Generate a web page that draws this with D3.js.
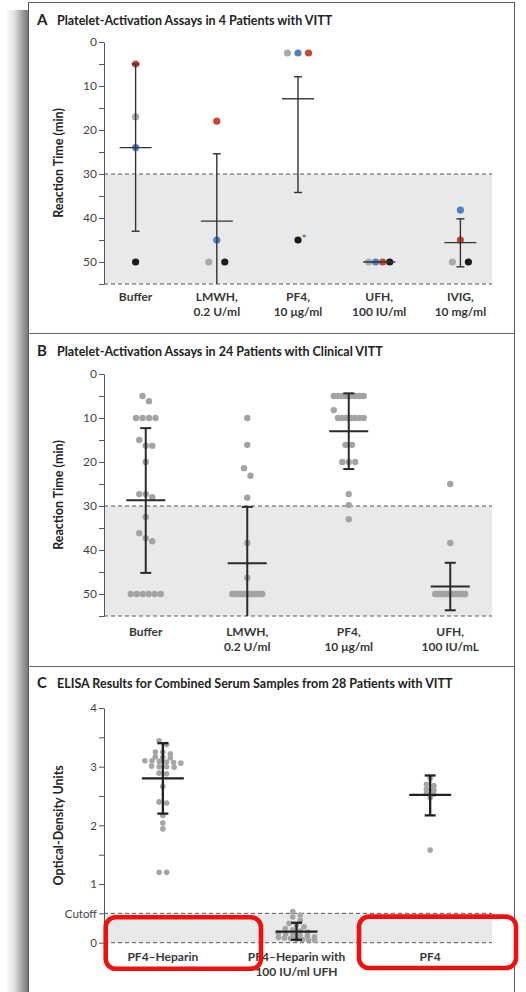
<!DOCTYPE html>
<html>
<head>
<meta charset="utf-8">
<script src="https://cdnjs.cloudflare.com/ajax/libs/d3/7.8.5/d3.min.js"></script>
<style>
  body { margin: 0; background: #fff; }
  svg { display: block; font-family: Lato, "Open Sans", sans-serif; }
</style>
</head>
<body>
<script>
// ---- data ----
// panel A: 4 patients, colour order gray, blue, red, black
const patientColors = ["#a9a9a9", "#4f80c6", "#cb4630", "#1c1c1c"];
const catsA = ["Buffer", "LMWH", "PF4", "UFH", "IVIG"];
const labelsA = [["Buffer"], ["LMWH,", "0.2 U/ml"], ["PF4,", "10 μg/ml"], ["UFH,", "100 IU/ml"], ["IVIG,", "10 mg/ml"]];
const bufferA = [17, 24, 5, 50];
const lmwhA = [50, 45, 18, 50];
const pf4A = [2.5, 2.5, 2.5, 45];
const ufhA = [50, 50, 50, 50];
const ivigA = [50, 38.2, 45, 50];
const meanA = [24, 40.7, 12.9, 50, 45.6];
const lowA = [5, 25.4, 7.9, 50, 40.2];
const highA = [43, 56.2, 34.2, 50, 51.1];

// panel B: 24 patients with clinical VITT
const catsB = ["Buffer", "LMWH", "PF4", "UFH"];
const labelsB = [["Buffer"], ["LMWH,", "0.2 U/ml"], ["PF4,", "10 μg/ml"], ["UFH,", "100 IU/mL"]];
const bufferB = [5, 6.2, 10, 10, 10, 10, 15, 16.3, 16.3, 20, 27.3, 27.3, 28, 32.5, 36.2, 37.3, 38, 50, 50, 50, 50, 50, 50];
const lmwhB = [10, 16.1, 21.4, 23.1, 28.1, 38.4, 46.3, 50, 50, 50, 50, 50, 50, 50, 50, 50, 50, 50, 50, 50, 50, 50, 50, 50];
const pf4B = [5, 5, 5, 5, 5, 5, 5, 5, 8.2, 10, 10, 10, 10, 10, 10, 10, 16.1, 16.1, 20, 20, 20, 27.3, 29.8, 33];
const ufhB = [25, 38.4, 50, 50, 50, 50, 50, 50, 50, 50, 50, 50, 50, 50, 50, 50, 50, 50, 50, 50, 50, 50, 50, 50];
const meanB = [28.7, 43.0, 13.0, 48.3];
const lowB = [12.3, 30.2, 4.4, 42.9];
const highB = [45.2, 56.5, 21.6, 53.7];

// panel C: ELISA optical density
const catsC = ["PF4–Heparin", "PF4–Heparin UFH", "PF4"];
const labelsC = [["PF4–Heparin"], ["PF4–Heparin with", "100 IU/ml UFH"], ["PF4"]];
const heparinC = [3.44, 3.38, 3.25, 3.25, 3.22, 3.17, 3.16, 3.15, 3.10, 3.10, 3.09, 3.08, 3.07, 3.06,
                  3.01, 3.00, 3.00, 2.99, 2.89, 2.88, 2.66, 2.40, 2.38, 2.17, 2.04, 1.94, 1.20, 1.20];
const heparinUfhC = [0.53, 0.47, 0.44, 0.38, 0.33, 0.30, 0.27, 0.24, 0.22, 0.20, 0.18, 0.16,
                     0.15, 0.13, 0.12, 0.11, 0.10, 0.09, 0.08, 0.07, 0.06, 0.05, 0.05, 0.04];
const pf4C = [2.80, 2.70, 2.68, 2.62, 2.60, 2.55, 2.53, 2.47, 1.58];
const meanC = [2.80, 0.19, 2.52];
const lowC = [2.20, 0.05, 2.17];
const highC = [3.40, 0.34, 2.85];

const width = 526, height = 992;
const plot = {left: 104, right: 492};
const font = "Lato, 'Open Sans', sans-serif";

let svg = d3.select("body").append("svg")
        .attr("width", width)
        .attr("height", height);

// page shadow on the left and the frame
let defs = svg.append("defs");
let grad = defs.append("linearGradient").attr("id", "shade").attr("x1", 0).attr("x2", 1);
grad.append("stop").attr("offset", 0).attr("stop-color", "#ffffff");
grad.append("stop").attr("offset", 0.35).attr("stop-color", "#e2e2e2");
grad.append("stop").attr("offset", 1).attr("stop-color", "#6f6f6f");
svg.append("rect").attr("x", 6).attr("y", 10).attr("width", 23).attr("height", height)
   .attr("fill", "url(#shade)");
svg.append("rect").attr("x", 28.5).attr("y", 2.5).attr("width", 486).attr("height", height + 10)
   .attr("fill", "#fff").attr("stroke", "#5a5a5a");
[333.5, 666.5].forEach(yy => svg.append("line")
   .attr("x1", 28.5).attr("x2", 514.5).attr("y1", yy).attr("y2", yy)
   .attr("stroke", "#6a6a6a"));

// rows of dots with nearly equal values are spread sideways, centred on the category
function layoutRows(vals, y, thresh, maxStep, maxSpan) {
  let pts = vals.map((v, i) => ({v: v, i: i, py: y(v)}))
                .sort((a, b) => a.py - b.py || a.i - b.i);
  let rows = [];
  pts.forEach(p => {
    let row = rows[rows.length - 1];
    if (row && p.py - row[0].py < thresh) row.push(p); else rows.push([p]);
  });
  rows.forEach(row => {
    let n = row.length;
    let step = n > 1 ? Math.min(maxStep, maxSpan / (n - 1)) : 0;
    row.forEach((p, k) => p.dx = (k - (n - 1) / 2) * step);
  });
  return pts;
}

function title(y0, letter, text) {
  svg.append("text").attr("x", 37).attr("y", y0).attr("font-size", 15).attr("font-weight", 700)
     .attr("fill", "#222").text(letter);
  svg.append("text").attr("x", 57).attr("y", y0).attr("font-size", 12.5).attr("font-weight", 700)
     .attr("fill", "#222").text(text);
}

function yAxis(y, ticks, fmt, size) {
  let g = svg.append("g")
     .attr("transform", "translate(" + plot.left + ",0)")
     .call(d3.axisLeft(y).tickValues(ticks).tickSize(5).tickSizeOuter(0).tickPadding(2).tickFormat(fmt));
  g.select(".domain").attr("stroke", "#555");
  g.selectAll(".tick line").attr("stroke", "#555");
  g.selectAll(".tick text").attr("fill", "#444").attr("font-size", size).attr("font-family", font);
  return g;
}

function yTitle(y, text) {
  let r = y.range();
  svg.append("text")
     .attr("transform", "translate(63," + (r[0] + r[1]) / 2 + ") rotate(-90)")
     .attr("text-anchor", "middle").attr("font-size", 12.5).attr("font-weight", 700)
     .attr("fill", "#222").text(text);
}

function band(y, v0, v1) {
  svg.append("rect").attr("x", plot.left).attr("width", plot.right - plot.left)
     .attr("y", Math.min(y(v0), y(v1))).attr("height", Math.abs(y(v1) - y(v0)))
     .attr("fill", "#e8e9eb");
  [v0, v1].forEach(v => svg.append("line")
     .attr("x1", plot.left).attr("x2", plot.right).attr("y1", y(v)).attr("y2", y(v))
     .attr("stroke", "#555").attr("stroke-dasharray", "4,3"));
}

function xLabels(x, cats, labels, base) {
  cats.forEach((c, i) => {
    let t = svg.append("text").attr("text-anchor", "middle").attr("font-size", 12)
       .attr("font-weight", 700).attr("fill", "#383838");
    labels[i].forEach((ln, k) => t.append("tspan").attr("x", x(c)).attr("y", base + k * 15).text(ln));
  });
}

function errorBars(x, y, cats, mean, low, high, clip, st) {
  cats.forEach((c, i) => {
    let cx = x(c);
    let g = svg.append("g").attr("stroke", st.color).attr("stroke-width", st.width);
    let lo = Math.max(low[i], clip[0]), hi = Math.min(high[i], clip[1]);
    if (hi > lo) {
      g.append("line").attr("x1", cx).attr("x2", cx).attr("y1", y(lo)).attr("y2", y(hi));
      if (low[i] >= clip[0]) g.append("line").attr("x1", cx - st.cap).attr("x2", cx + st.cap)
                               .attr("y1", y(low[i])).attr("y2", y(low[i]));
      if (high[i] <= clip[1]) g.append("line").attr("x1", cx - st.cap).attr("x2", cx + st.cap)
                                .attr("y1", y(high[i])).attr("y2", y(high[i]));
    }
    g.append("line").attr("x1", cx - st.mean).attr("x2", cx + st.mean)
     .attr("y1", y(mean[i])).attr("y2", y(mean[i]));
  });
}

// ---------------- panel A ----------------
title(25, "A", "Platelet-Activation Assays in 4 Patients with VITT");
let xA = d3.scalePoint().domain(catsA).range([95, 501]).padding(0.5);
let yA = d3.scaleLinear().domain([0, 55]).range([42, 284]);
band(yA, 30, 55);
yAxis(yA, d3.range(0, 56, 5), d => d % 10 === 0 ? d : "", 12);
yTitle(yA, "Reaction Time (min)");
xLabels(xA, catsA, labelsA, 301);

const valuesA = [bufferA, lmwhA, pf4A, ufhA, ivigA];
valuesA.forEach((vals, ci) => {
  let pts = layoutRows(vals, yA, 8, 16, 21);
  svg.append("g").selectAll("circle").data(pts).join("circle")
     .attr("cx", p => xA(catsA[ci]) + p.dx).attr("cy", p => p.py).attr("r", 3.6)
     .attr("fill", p => patientColors[p.i]);
  if (catsA[ci] === "PF4") {
    let p = pts.find(q => q.i === 3);
    svg.append("text").attr("x", xA(catsA[ci]) + p.dx + 3.5).attr("y", p.py + 3)
       .attr("font-size", 12).attr("fill", "#555").text("*");
  }
});
errorBars(xA, yA, catsA, meanA, lowA, highA, [0, 55], {color: "#333", width: 1.4, cap: 4, mean: 16});

// ---------------- panel B ----------------
title(356, "B", "Platelet-Activation Assays in 24 Patients with Clinical VITT");
let xB = d3.scalePoint().domain(catsB).range([95, 501]).padding(0.5);
let yB = d3.scaleLinear().domain([0, 55]).range([374, 616]);
band(yB, 30, 55);
yAxis(yB, d3.range(0, 56, 5), d => d % 10 === 0 ? d : "", 12);
yTitle(yB, "Reaction Time (min)");
xLabels(xB, catsB, labelsB, 636);

const valuesB = [bufferB, lmwhB, pf4B, ufhB];
valuesB.forEach((vals, ci) => {
  let pts = layoutRows(vals, yB, 8, 6.5, 30);
  svg.append("g").selectAll("circle").data(pts).join("circle")
     .attr("cx", p => xB(catsB[ci]) + p.dx).attr("cy", p => p.py).attr("r", 3.2)
     .attr("fill", "#a3a3a3");
});
errorBars(xB, yB, catsB, meanB, lowB, highB, [0, 55], {color: "#2a2a2a", width: 2, cap: 5.5, mean: 19.5});

// ---------------- panel C ----------------
title(688, "C", "ELISA Results for Combined Serum Samples from 28 Patients with VITT");
let xC = d3.scalePoint().domain(catsC).range([96, 497]).padding(0.5);
let yC = d3.scaleLinear().domain([0, 4]).range([942.7, 708]);
band(yC, 0, 0.5);
yAxis(yC, d3.range(0, 4.01, 0.5), d => d === 0.5 ? "Cutoff" : (d % 1 === 0 ? d : ""), 11.5);
yTitle(yC, "Optical-Density Units");
xLabels(xC, catsC, labelsC, 961);

const valuesC = [heparinC, heparinUfhC, pf4C];
valuesC.forEach((vals, ci) => {
  let pts = layoutRows(vals, yC, 4, 7.5, 36);
  svg.append("g").selectAll("circle").data(pts).join("circle")
     .attr("cx", p => xC(catsC[ci]) + p.dx).attr("cy", p => p.py).attr("r", 2.8)
     .attr("fill", "#a5a5a5");
});
errorBars(xC, yC, catsC, meanC, lowC, highC, [0, 4], {color: "#222", width: 2.3, cap: 5.5, mean: 21});

// red highlight boxes drawn over the figure
const marks = [{x: 105.7, y: 917.3, w: 155.3, h: 51.4}, {x: 359, y: 916.6, w: 157, h: 51.4}];
svg.append("g").selectAll("rect").data(marks).join("rect")
   .attr("x", d => d.x).attr("y", d => d.y).attr("width", d => d.w).attr("height", d => d.h)
   .attr("rx", 10).attr("fill", "none").attr("stroke", "#f2100d").attr("stroke-width", 4.6);
</script>
</body>
</html>
